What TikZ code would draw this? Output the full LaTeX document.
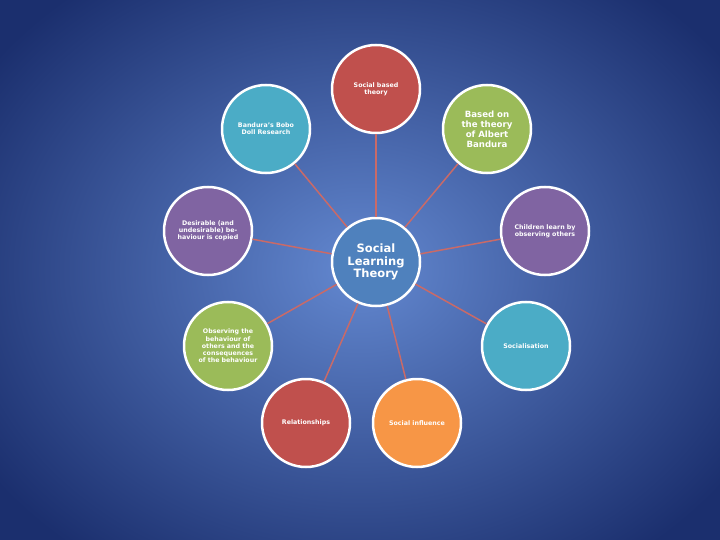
\documentclass[tikz,border=0pt]{standalone}
\usepackage{fontspec}
\setmainfont{DejaVu Sans}
\definecolor{cred}{HTML}{C0504D}
\definecolor{cgreen}{HTML}{9BBB59}
\definecolor{cpurple}{HTML}{8064A2}
\definecolor{cteal}{HTML}{4BACC6}
\definecolor{corange}{HTML}{F79646}
\definecolor{cblue}{HTML}{4F81BD}
\definecolor{bgin}{HTML}{6388D0}
\definecolor{bgout}{HTML}{1B2F6E}
\begin{document}
\begin{tikzpicture}[x=1pt,y=-1pt,
  bub/.style={circle,draw=white,line width=2.5pt,minimum size=88pt,inner sep=0pt,text width=62pt,align=center,text=white,font=\fontsize{6.3}{7.2}\selectfont\bfseries},
  link/.style={draw=cred!85!white,line width=1.5pt}]
\useasboundingbox (0,0) rectangle (720,540);
\shade[inner color=bgin,outer color=bgout] (-90,-90) rectangle (810,630);
\node[bub,fill=cblue,font=\fontsize{11.5}{12.5}\selectfont\bfseries] (c) at (376,262) {Social Learning Theory};
\node[bub,fill=cred] (a1) at (376,89) {Social based theory\\[14pt]};
\node[bub,fill=cgreen,font=\fontsize{8.6}{10}\selectfont\bfseries] (a2) at (487,129) {Based on the theory of Albert Bandura};
\node[bub,fill=cpurple] (a3) at (545,231) {Children learn by observing others};
\node[bub,fill=cteal] (a4) at (526,346) {Socialisation};
\node[bub,fill=corange] (a5) at (417,423) {Social influence};
\node[bub,fill=cred] (a6) at (306,423) {Relationships};
\node[bub,fill=cgreen] (a7) at (228,346) {Observing the behaviour of others and the consequences of the behaviour};
\node[bub,fill=cpurple] (a8) at (208,231) {Desirable (and undesirable) behaviour is copied};
\node[bub,fill=cteal] (a9) at (266,129) {Bandura's Bobo Doll Research\\[10pt]};
\begin{scope}[on background layer/.try]
\end{scope}
\foreach \n in {a1,a2,a3,a4,a5,a6,a7,a8,a9}{\path[link] (c) -- (\n);}
\end{tikzpicture}
\end{document}
